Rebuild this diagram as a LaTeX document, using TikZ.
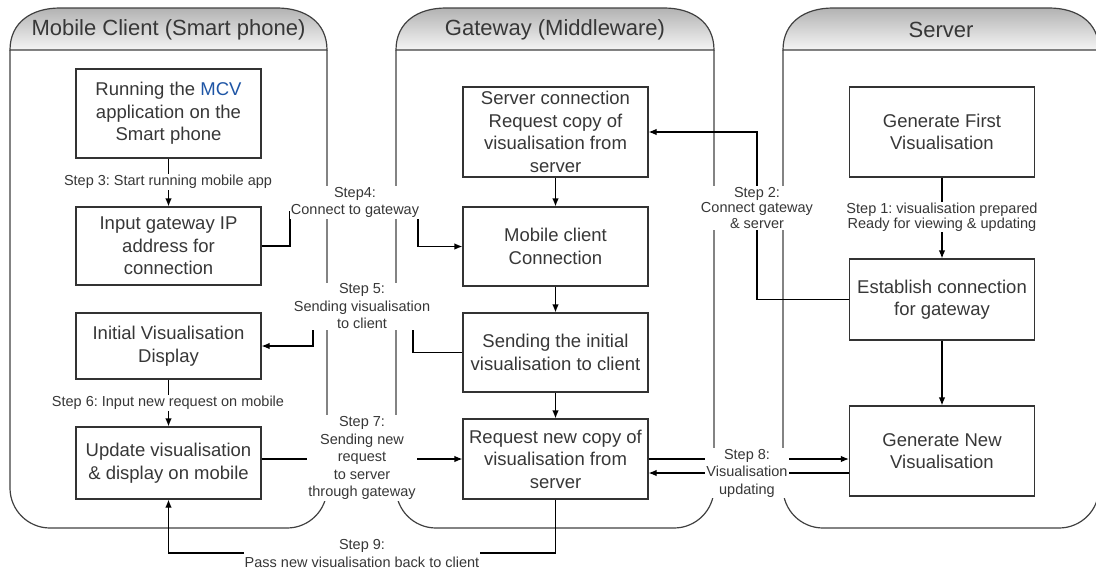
\documentclass[tikz,border=0pt]{standalone}
\usepackage{fontspec}
\setmainfont{Liberation Sans}
\usetikzlibrary{arrows.meta}
\frenchspacing
\definecolor{mcvblue}{RGB}{30,85,165}
\definecolor{txt}{RGB}{55,55,55}

\tikzset{
  lane/.style={draw=black!75, line width=1.2pt},
  head/.style={top color=black!30, bottom color=black!4},
  headtext/.style={text=txt, font=\fontsize{22}{26}\selectfont},
  proc/.style={draw=black!80, line width=1.2pt, minimum width=185pt, align=center,
    text=txt, inner sep=2pt, font=\fontsize{18.5}{22.5}\selectfont},
  steplabel/.style={fill=white, align=center, text=txt, inner sep=1pt,
    font=\fontsize{14.5}{17.5}\selectfont},
  link/.style={line width=1.2pt, ->},
}

\begin{document}
\begin{tikzpicture}[x=1pt, y=-1pt, >={Latex[length=8pt,width=6.5pt]}]
    \useasboundingbox (0,0) rectangle (1096,571);
    % swim lanes
    \foreach \l/\r in {10/327, 396/714, 783/1099} {
      \shade[head] (\l,50) .. controls (\l,22) and (\l+22,8) .. (\l+50,8) -- (\r-50,8)
          .. controls (\r-22,8) and (\r,22) .. (\r,50) -- cycle;
      \draw[lane] (\l,50) .. controls (\l,22) and (\l+22,8) .. (\l+50,8) -- (\r-50,8)
          .. controls (\r-22,8) and (\r,22) .. (\r,50) -- cycle;
      \draw[lane, rounded corners=40pt] (\r,50) -- (\r,528) -- (\l,528) -- (\l,50);
    }
    \node[headtext] (h1) at (168.5,30) {Mobile Client (Smart phone)};
    \node[headtext] (h2) at (555,30) {Gateway (Middleware)};
    \node[headtext] (h3) at (941,30) {Server};
    % mobile client
    \node[proc, minimum height=89pt] (m1) at (168.5,113.5) {Running the \textcolor{mcvblue}{MCV}\\application on the\\Smart phone};
    \node[proc, minimum height=78pt] (m2) at (168.5,246) {Input gateway IP\\address for\\connection};
    \node[proc, minimum height=66pt] (m3) at (168.5,346) {Initial Visualisation\\Display};
    \node[proc, minimum height=72pt] (m4) at (168.5,463) {Update visualisation\\\& display on mobile};
    % gateway
    \node[proc, minimum height=90pt] (g1) at (555.5,132) {Server connection\\Request copy of\\visualisation from\\server};
    \node[proc, minimum height=79pt] (g2) at (555.5,246.5) {Mobile client\\Connection};
    \node[proc, minimum height=79pt] (g3) at (555.5,352.5) {Sending the initial\\visualisation to client};
    \node[proc, minimum height=80pt] (g4) at (555.5,459) {Request new copy of\\visualisation from\\server};
    % server
    \node[proc, minimum height=90pt] (s1) at (942,132) {Generate First\\Visualisation};
    \node[proc, minimum height=81pt] (s2) at (942,299.5) {Establish connection\\for gateway};
    \node[proc, minimum height=90pt] (s3) at (942,451) {Generate New\\Visualisation};
    % bends
    \coordinate (c4a) at (290,212);
    \coordinate (c4b) at (418,212);
    \coordinate (c5a) at (413,320);
    \coordinate (c5b) at (313,320);
    \coordinate (c2) at (757,210);
    \coordinate (c8) at (747,473);
    \coordinate (c9) at (362,553);
    % connectors
    \draw[link] (s1) -- (s2);
    \draw[link] (s2.west) -| (c2) |- (g1.east);
    \draw[link] (s2) -- (s3);
    \draw[link] (m1) -- (m2);
    \draw[link] (m2.east) -| (c4a) -- (c4b) |- (g2.west);
    \draw[link] (g1) -- (g2);
    \draw[link] (g2) -- (g3);
    \draw[link] (g3.west) -| (c5a) -- (c5b) |- (m3.east);
    \draw[link] (m3) -- (m4);
    \draw[link] (g3) -- (g4);
    \draw[link] (m4.east |- g4.west) -- (g4.west);
    \draw[link] (g4.east) -- (s3.west |- g4.east);
    \draw[link] (s3.west |- c8) -- (g4.east |- c8);
    \draw[link] (g4.south) |- (c9) -| (m4.south);
    % step labels
    \node[steplabel, font=\fontsize{14.5}{14.5}\selectfont] (l1) at (942,217) {Step 1: visualisation prepared\\Ready for viewing \& updating};
    \node[steplabel, font=\fontsize{14.5}{15.5}\selectfont] (l2) at (757,208) {Step 2:\\Connect gateway\\\& server};
    \node[steplabel] (l3) at (168,182) {Step 3: Start running mobile app};
    \node[steplabel] (l4) at (355,202.5) {Step4:\\Connect to gateway};
    \node[steplabel] (l5) at (362,306.5) {Step 5:\\Sending visualisation\\to client};
    \node[steplabel] (l6) at (168,403) {Step 6: Input new request on mobile};
    \node[steplabel] (l7) at (362,458) {Step 7:\\Sending new\\request\\to server\\through gateway};
    \node[steplabel] (l8) at (747,473) {Step 8:\\Visualisation\\updating};
    \node[steplabel] (l9) at (362,553.5) {Step 9:\\Pass new visualisation back to client};
\end{tikzpicture}
\end{document}
